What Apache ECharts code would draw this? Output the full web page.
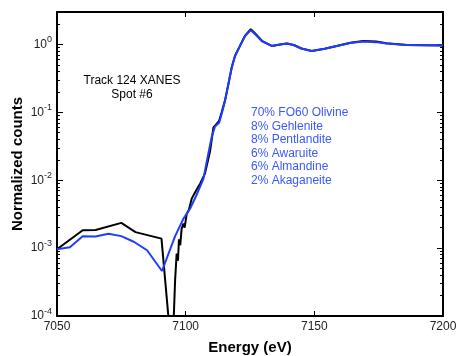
<!DOCTYPE html>
<html>
<head>
<meta charset="utf-8">
<script src="https://cdn.jsdelivr.net/npm/echarts@6/dist/echarts.min.js"></script>
<style>html,body{margin:0;padding:0;background:#fff;}#c{width:458px;height:356px;}</style>
</head>
<body>
<div id="c"></div>
<script>
// Measured spectrum (black)
var measE = [7050, 7060, 7065, 7075, 7080.5, 7090.6, 7094.2, 7095.0, 7095.9, 7096.5, 7097.0, 7097.4, 7097.9, 7098.4, 7099.1, 7099.6, 7100.4, 7101.2, 7102.4, 7104.0, 7105.6, 7107.5, 7109.5, 7110.8, 7112.1, 7113.0, 7114.0, 7115.3, 7116.6, 7117.9, 7119.2, 7121.1, 7123.1, 7125.3, 7127.0, 7129.6, 7133.4, 7136.7, 7139.3, 7142, 7145, 7149, 7154, 7158.7, 7164, 7169, 7174, 7178, 7186, 7193, 7200];
var measV = [9.6e-4, 1.83e-3, 1.85e-3, 2.35e-3, 1.72e-3, 1.38e-3, 4e-5, 4e-5, 3.4e-4, 8.3e-4, 6.5e-4, 1.35e-3, 1.1e-3, 1.9e-3, 2.3e-3, 2.0e-3, 3.2e-3, 3.6e-3, 5.4e-3, 7.0e-3, 8.9e-3, 0.0125, 0.027, 0.06, 0.068, 0.075, 0.1, 0.15, 0.26, 0.46, 0.68, 0.95, 1.35, 1.68, 1.45, 1.13, 0.95, 1.0, 1.03, 0.98, 0.87, 0.8, 0.86, 0.95, 1.06, 1.12, 1.1, 1.04, 0.98, 0.97, 0.96];
// Linear-combination fit (blue)
var fitE = [7050, 7055, 7060, 7065, 7070, 7075, 7080, 7085, 7090.8, 7095.9, 7099.1, 7101.7, 7104.0, 7106.9, 7108.8, 7110.1, 7111.4, 7113.0, 7114.0, 7115.3, 7116.6, 7117.9, 7119.2, 7121.1, 7123.1, 7125.3, 7127.0, 7129.6, 7133.4, 7136.7, 7139.3, 7142, 7145, 7149, 7154, 7158.7, 7164, 7169, 7174, 7178, 7186, 7193, 7200];
var fitV = [9.6e-4, 1.03e-3, 1.5e-3, 1.48e-3, 1.63e-3, 1.5e-3, 1.23e-3, 9.3e-4, 4.6e-4, 1.5e-3, 2.7e-3, 3.8e-3, 5.8e-3, 0.0105, 0.0245, 0.043, 0.062, 0.07, 0.095, 0.148, 0.26, 0.455, 0.68, 0.95, 1.33, 1.62, 1.41, 1.12, 0.95, 1.0, 1.03, 0.98, 0.87, 0.8, 0.86, 0.95, 1.05, 1.1, 1.08, 1.03, 0.98, 0.97, 0.97];
var xTicks = [7050, 7100, 7150, 7200];
var yDecades = [1e-4, 1e-3, 1e-2, 1e-1, 1];
var titleLines = ['Track 124 XANES', 'Spot #6'];
var fitLabels = ['70% FO60 Olivine', '8% Gehlenite', '8% Pentlandite', '6% Awaruite', '6% Almandine', '2% Akaganeite'];

var minorVals = [];
for (var d = -4; d <= 0; d++) {
  for (var m = 2; m <= 9; m++) {
    var v = m * Math.pow(10, d);
    if (v <= 3) minorVals.push(v);
  }
}

function pairs(xs, ys) { return xs.map(function (x, i) { return [x, ys[i]]; }); }

var FONT = 'Liberation Sans, Arial, sans-serif';
var lineCol = '#000';

function yAxisBase(pos, opts) {
  var a = {
    type: 'log', logBase: 10, min: 1e-4, max: 3, position: pos,
    axisLine: { show: true, onZero: false, lineStyle: { color: lineCol, width: 2 } },
    axisTick: { show: true, inside: true, length: 6, lineStyle: { color: lineCol, width: 1 }, customValues: yDecades },
    axisLabel: { show: false },
    splitLine: { show: false }
  };
  for (var k in opts) a[k] = opts[k];
  return a;
}

var chart = echarts.init(document.getElementById('c'), null, { renderer: 'canvas' });
chart.setOption({
  animation: false,
  backgroundColor: '#fff',
  grid: { left: 57, right: 15, top: 12, bottom: 40, containLabel: false, outerBoundsMode: 'none' },
  xAxis: [
    {
      type: 'value', min: 7050, max: 7200, interval: 50, position: 'bottom',
      name: 'Energy (eV)', nameLocation: 'middle', nameGap: 24, nameMoveOverlap: false,
      nameTextStyle: { fontFamily: FONT, fontSize: 15, fontWeight: 'bold', color: '#000' },
      axisLine: { show: true, onZero: false, lineStyle: { color: lineCol, width: 2 } },
      axisTick: { show: true, inside: true, length: 5, lineStyle: { color: lineCol }, customValues: xTicks },
      axisLabel: { show: true, margin: 5, fontFamily: FONT, fontSize: 12, color: '#222', customValues: xTicks,
        formatter: function (v) { return String(Math.round(v)); } },
      splitLine: { show: false }
    },
    {
      type: 'value', min: 7050, max: 7200, interval: 50, position: 'top',
      axisLine: { show: true, onZero: false, lineStyle: { color: lineCol, width: 2 } },
      axisTick: { show: true, inside: true, length: 5, lineStyle: { color: lineCol }, customValues: xTicks },
      axisLabel: { show: false },
      splitLine: { show: false }
    }
  ],
  yAxis: [
    yAxisBase('left', {
      name: 'Normalized counts', nameLocation: 'middle', nameGap: 32, nameMoveOverlap: false,
      nameTextStyle: { fontFamily: FONT, fontSize: 15, fontWeight: 'bold', color: '#000' },
      axisLabel: {
        show: true, margin: 5, fontFamily: FONT, color: '#222', customValues: yDecades,
        formatter: function (v) {
          var l = Math.log(v) / Math.LN10;
          var e = Math.round(l);
          if (Math.abs(l - e) > 1e-6) return '';
          return '{b|10}{s|' + e + '}';
        },
        rich: {
          b: { fontFamily: FONT, fontSize: 12, color: '#222', lineHeight: 14 },
          s: { fontFamily: FONT, fontSize: 9, color: '#222', padding: [0, 0, 9, 0] }
        }
      }
    }),
    yAxisBase('left', { axisLine: { show: false }, axisTick: { show: true, inside: true, length: 3, lineStyle: { color: lineCol }, customValues: minorVals } }),
    yAxisBase('right', {}),
    yAxisBase('right', { axisLine: { show: false }, axisTick: { show: true, inside: true, length: 3, lineStyle: { color: lineCol }, customValues: minorVals } })
  ],
  series: [
    {
      type: 'line', name: 'measured', xAxisIndex: 0, yAxisIndex: 0, showSymbol: false, clip: true,
      lineStyle: { color: '#000', width: 2 }, data: pairs(measE, measV), z: 2
    },
    {
      type: 'line', name: 'fit', xAxisIndex: 0, yAxisIndex: 0, showSymbol: false, clip: true,
      lineStyle: { color: '#1f3cff', width: 2 }, data: pairs(fitE, fitV), z: 3
    }
  ],
  graphic: [
    {
      type: 'text', left: 82, top: 74, z: 10,
      style: { text: titleLines.join('\n'), fontFamily: FONT, fontSize: 12, fill: '#000', textAlign: 'center', lineHeight: 13.5, width: 100, align: 'center' }
    },
    {
      type: 'text', left: 251, top: 106, z: 10,
      style: { text: fitLabels.join('\n'), fontFamily: FONT, fontSize: 12, fill: '#3a58ff', lineHeight: 13.5 }
    }
  ]
});
</script>
</body>
</html>
